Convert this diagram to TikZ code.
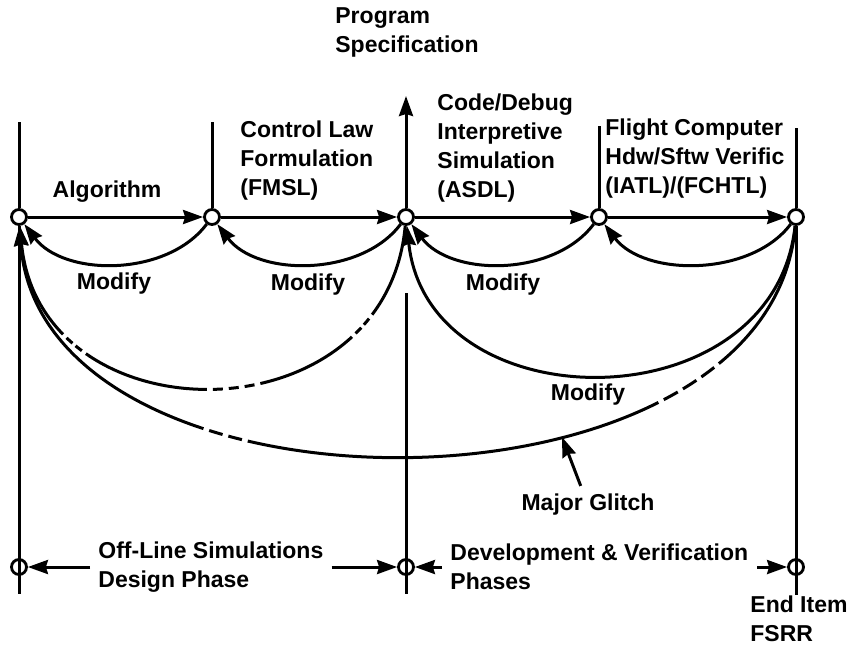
\documentclass[tikz,border=0pt]{standalone}
\usepackage{fontspec}
\setmainfont{Liberation Sans}
\usepackage{tikz}
\usetikzlibrary{positioning,arrows.meta}
\tikzset{
  stage/.style={circle, draw, line width=1.4pt, fill=white, minimum size=7.5pt, inner sep=0pt},
  tap/.style={circle, draw, line width=1.4pt, minimum size=7.5pt, inner sep=0pt},
  lbl/.style={font=\bfseries\fontsize{11.5}{14.5}\selectfont, align=left, inner sep=4pt},
  arr/.style={-{Stealth[length=10pt,width=7pt,inset=1pt]}, line width=1.5pt},
  rule/.style={line width=1.5pt},
}
\begin{document}
\begin{tikzpicture}[x=0.5pt,y=-0.5pt]
      \useasboundingbox (0,0) rectangle (854,655);
      \node[stage] (A) at (19,217) {};
      \node[stage] (B) at (212,217) {};
      \node[stage] (C) at (406,217) {};
      \node[stage] (D) at (599,217) {};
      \node[stage] (E) at (796,217) {};
      \node[tap] (P) at (19,567) {};
      \node[tap] (Q) at (406,567) {};
      \node[tap] (R) at (796,567) {};
      \coordinate (tA) at (19,122);
      \coordinate (tB) at (212,122);
      \coordinate (tD) at (599,126);
      \coordinate (tE) at (796,128);
      \coordinate (up) at (406,96);
      \coordinate (mC) at (406,293);
      \coordinate (bA) at (19,594);
      \coordinate (bC) at (406,594);
      \coordinate (bE) at (796,595);
      \foreach \t/\s in {tA/A,tB/B,tD/D,tE/E}{\draw[rule] (\t) -- (\s);}
      \draw[rule] (A) -- (bA);
      \draw[rule] (mC) -- (bC);
      \draw[rule] (E) -- (bE);
      \draw[arr] (C) -- (up);
      \foreach \a/\b in {A/B,B/C,C/D,D/E}{\draw[arr] (\a) -- (\b);}
      \foreach \a/\b in {B/A,C/B,D/C,E/D}
        {\draw[arr] (\a) .. controls +(-45,60) and +(45,60) .. (\b);}
      \draw[arr, dash pattern={on 48pt off 2.5pt on 4pt off 2pt on 4pt off 2.5pt on 52pt off 3pt on 5pt off 3pt on 5pt off 3pt on 5pt off 3pt on 64pt off 2.5pt on 4pt off 2pt on 4pt off 2.5pt on 120pt}]
        (C) .. controls (386,441) and (40,441) .. (A);
      \draw[arr] (E) .. controls (774,425) and (428,425) .. (C);
      \draw[arr, dash pattern={on 81pt off 3pt on 8pt off 3pt on 8pt off 3pt on 8pt off 3pt on 210pt off 3pt on 7pt off 3pt on 7pt off 3pt on 400pt}]
        (E) .. controls (770,532) and (40,532) .. (A);
      \node[lbl, anchor=west] (prog) at (327,32) {Program\\Specification};
      \node[lbl, anchor=west] (ctrl) at (232,161) {Control Law\\Formulation\\(FMSL)};
      \node[lbl, anchor=west] (code) at (429,148) {Code/Debug\\Interpretive\\Simulation\\(ASDL)};
      \node[lbl, anchor=west] (fcomp) at (597,159) {Flight Computer\\Hdw/Sftw Verific\\(IATL)/(FCHTL)};
      \node[lbl] (alg) at (107,192) {Algorithm};
      \node[lbl] (mod1) at (114,284) {Modify};
      \node[lbl] (mod2) at (308,285) {Modify};
      \node[lbl] (mod3) at (503,285) {Modify};
      \node[lbl] (mod4) at (588,395) {Modify};
      \node[lbl] (glitch) at (588,505) {Major Glitch};
      \coordinate (gtip) at (562,437);
      \draw[arr] (glitch) -- (gtip);
      \node[lbl, anchor=west] (offline) at (90,567) {Off-Line Simulations\\Design Phase};
      \node[lbl, anchor=west] (devver) at (442,567) {Development \& Verification\\Phases};
      \node[lbl, anchor=west] (endit) at (742,619) {End Item\\FSRR};
      \coordinate (eR) at (757,567);
      \draw[arr] (offline.west) -- (P);
      \draw[arr] (offline.east) -- (Q);
      \draw[arr] (devver.west) -- (Q);
      \draw[arr] (eR) -- (R);
\end{tikzpicture}
\end{document}
